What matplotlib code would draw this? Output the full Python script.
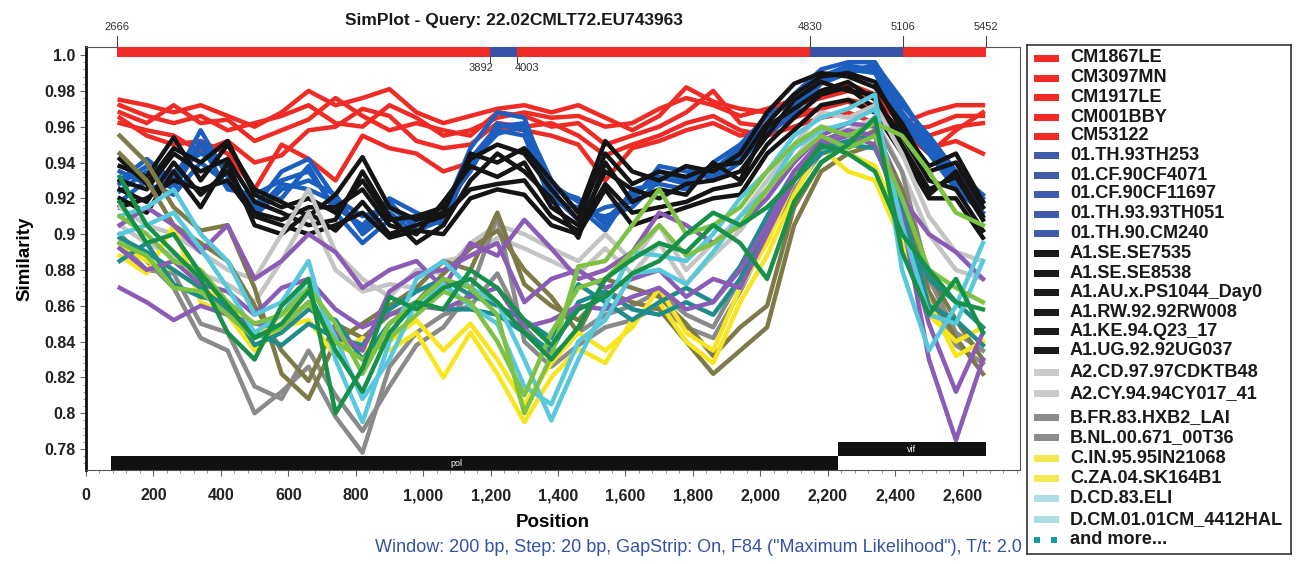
import numpy as np
import matplotlib
matplotlib.use('Agg')
import matplotlib.pyplot as plt
from matplotlib.patches import Rectangle

plt.rcParams['font.family'] = ['Liberation Sans', 'DejaVu Sans']

# window midpoints (bp) at which the similarity values were read
positions = np.arange(100, 2661, 80)

# CRF22 references (red)
cm1867le = [0.975,0.972,0.968,0.972,0.966,0.960,0.968,0.980,0.972,0.976,0.981,0.968,0.962,0.966,0.970,0.972,0.968,0.972,0.965,0.958,0.966,0.982,0.974,0.970,0.968,0.972,0.976,0.980,0.976,0.962,0.968,0.972,0.972]
cm3097mn = [0.968,0.962,0.972,0.962,0.964,0.952,0.958,0.964,0.976,0.966,0.958,0.962,0.958,0.955,0.968,0.966,0.960,0.962,0.950,0.955,0.960,0.968,0.980,0.962,0.960,0.968,0.970,0.974,0.968,0.958,0.960,0.966,0.966]
cm1917le = [0.962,0.958,0.955,0.946,0.952,0.940,0.944,0.958,0.960,0.970,0.966,0.952,0.948,0.950,0.962,0.960,0.962,0.955,0.944,0.950,0.955,0.962,0.966,0.958,0.955,0.960,0.965,0.968,0.962,0.955,0.948,0.952,0.945]
cm001bby = [0.972,0.966,0.962,0.966,0.958,0.962,0.966,0.972,0.962,0.960,0.972,0.965,0.955,0.958,0.965,0.968,0.965,0.966,0.960,0.962,0.970,0.976,0.972,0.966,0.970,0.975,0.980,0.984,0.978,0.965,0.955,0.960,0.962]
cm53122 = [0.965,0.955,0.950,0.952,0.945,0.925,0.950,0.942,0.930,0.955,0.948,0.945,0.935,0.940,0.960,0.958,0.955,0.950,0.930,0.948,0.952,0.958,0.962,0.955,0.958,0.965,0.970,0.975,0.972,0.958,0.945,0.958,0.968]

# CRF01_AE (blue)
th93th253 = [0.930,0.942,0.930,0.958,0.932,0.915,0.935,0.942,0.920,0.910,0.915,0.905,0.912,0.948,0.968,0.965,0.925,0.920,0.905,0.920,0.935,0.930,0.936,0.948,0.962,0.978,0.992,0.996,0.996,0.972,0.955,0.935,0.922]
cf90cf4071 = [0.924,0.935,0.925,0.950,0.925,0.922,0.930,0.935,0.915,0.905,0.920,0.912,0.905,0.942,0.960,0.962,0.930,0.912,0.910,0.915,0.930,0.938,0.930,0.940,0.958,0.972,0.988,0.994,0.992,0.965,0.948,0.928,0.915]
cf90cf11697 = [0.918,0.930,0.935,0.945,0.938,0.910,0.925,0.930,0.922,0.900,0.912,0.900,0.918,0.938,0.958,0.955,0.918,0.915,0.902,0.925,0.928,0.925,0.940,0.950,0.966,0.975,0.985,0.990,0.994,0.968,0.950,0.932,0.918]
th93th051 = [0.935,0.928,0.922,0.940,0.928,0.918,0.920,0.938,0.912,0.895,0.908,0.908,0.915,0.935,0.962,0.958,0.922,0.908,0.915,0.918,0.938,0.935,0.932,0.945,0.960,0.970,0.986,0.992,0.990,0.962,0.945,0.925,0.912]
th90cm240 = [0.928,0.938,0.928,0.952,0.935,0.912,0.928,0.925,0.918,0.902,0.918,0.902,0.908,0.940,0.956,0.960,0.928,0.918,0.908,0.922,0.932,0.928,0.935,0.942,0.955,0.968,0.984,0.990,0.995,0.975,0.952,0.930,0.920]

# A1 (black)
se7535 = [0.938,0.932,0.954,0.930,0.950,0.925,0.918,0.910,0.922,0.943,0.915,0.908,0.912,0.945,0.940,0.948,0.930,0.912,0.952,0.935,0.930,0.938,0.935,0.945,0.968,0.984,0.990,0.988,0.982,0.962,0.935,0.940,0.915]
se8538 = [0.925,0.918,0.940,0.922,0.935,0.912,0.908,0.915,0.915,0.925,0.905,0.900,0.918,0.938,0.932,0.940,0.915,0.905,0.935,0.925,0.920,0.928,0.930,0.935,0.955,0.975,0.985,0.980,0.978,0.950,0.925,0.932,0.908]
ps1044 = [0.930,0.925,0.945,0.935,0.942,0.918,0.912,0.905,0.908,0.935,0.910,0.895,0.905,0.930,0.945,0.935,0.920,0.898,0.940,0.918,0.925,0.922,0.940,0.930,0.960,0.970,0.980,0.985,0.975,0.955,0.930,0.925,0.902]
rw92rw008 = [0.920,0.912,0.935,0.915,0.940,0.905,0.900,0.912,0.902,0.918,0.900,0.905,0.910,0.925,0.928,0.930,0.910,0.902,0.928,0.912,0.915,0.918,0.925,0.928,0.950,0.965,0.978,0.982,0.970,0.948,0.922,0.935,0.910]
ke94q23 = [0.942,0.928,0.948,0.940,0.952,0.922,0.915,0.920,0.912,0.930,0.908,0.910,0.915,0.942,0.950,0.945,0.925,0.908,0.945,0.928,0.935,0.932,0.938,0.940,0.962,0.978,0.988,0.990,0.985,0.958,0.938,0.945,0.918]
ug92ug037 = [0.915,0.920,0.930,0.925,0.930,0.910,0.905,0.900,0.905,0.912,0.898,0.902,0.900,0.920,0.925,0.922,0.905,0.900,0.925,0.905,0.910,0.915,0.920,0.922,0.945,0.958,0.972,0.975,0.968,0.945,0.920,0.920,0.898]

# A2 (light gray), B (gray), C (yellow), D (light blue)
cd97cdktb48 = [0.915,0.905,0.900,0.890,0.880,0.875,0.900,0.925,0.890,0.875,0.865,0.880,0.878,0.895,0.905,0.900,0.892,0.885,0.900,0.885,0.905,0.880,0.895,0.910,0.930,0.950,0.968,0.965,0.972,0.945,0.910,0.890,0.885]
cy94cy017 = [0.905,0.895,0.888,0.878,0.872,0.862,0.885,0.912,0.880,0.868,0.872,0.870,0.885,0.888,0.898,0.892,0.885,0.878,0.892,0.878,0.895,0.872,0.888,0.902,0.922,0.942,0.960,0.958,0.965,0.935,0.900,0.880,0.875]
hxb2_lai = [0.900,0.885,0.870,0.842,0.835,0.800,0.812,0.826,0.798,0.778,0.826,0.845,0.855,0.860,0.878,0.848,0.832,0.845,0.855,0.860,0.868,0.855,0.848,0.875,0.905,0.930,0.950,0.955,0.962,0.935,0.875,0.845,0.835]
nl00t36 = [0.895,0.880,0.878,0.850,0.845,0.815,0.808,0.835,0.810,0.790,0.815,0.838,0.848,0.868,0.910,0.840,0.826,0.838,0.848,0.852,0.860,0.848,0.842,0.868,0.898,0.925,0.945,0.950,0.955,0.925,0.865,0.838,0.828]
in95in21068 = [0.888,0.878,0.905,0.862,0.855,0.835,0.848,0.852,0.832,0.842,0.835,0.845,0.820,0.845,0.822,0.795,0.820,0.836,0.828,0.852,0.862,0.840,0.828,0.862,0.888,0.922,0.948,0.935,0.930,0.895,0.855,0.840,0.848]
za04sk164b1 = [0.895,0.885,0.880,0.870,0.862,0.842,0.855,0.860,0.840,0.835,0.840,0.852,0.835,0.850,0.830,0.805,0.828,0.845,0.835,0.848,0.870,0.845,0.835,0.870,0.895,0.930,0.955,0.945,0.938,0.905,0.862,0.832,0.840]
cd83eli = [0.910,0.915,0.925,0.900,0.885,0.855,0.862,0.885,0.830,0.795,0.840,0.875,0.885,0.870,0.862,0.830,0.796,0.830,0.860,0.890,0.888,0.885,0.900,0.920,0.935,0.955,0.965,0.970,0.978,0.880,0.835,0.860,0.895]
cm4412hal = [0.900,0.905,0.912,0.892,0.870,0.845,0.855,0.875,0.842,0.808,0.830,0.862,0.872,0.860,0.850,0.815,0.805,0.840,0.852,0.878,0.880,0.872,0.890,0.910,0.925,0.948,0.958,0.962,0.970,0.905,0.855,0.850,0.885]

# the "and more..." references
olive_1 = [0.955,0.940,0.915,0.902,0.905,0.870,0.822,0.808,0.840,0.850,0.860,0.870,0.885,0.880,0.912,0.872,0.860,0.852,0.868,0.862,0.858,0.840,0.822,0.835,0.848,0.905,0.935,0.945,0.950,0.918,0.868,0.842,0.822]
olive_2 = [0.945,0.930,0.905,0.895,0.885,0.860,0.835,0.818,0.850,0.842,0.855,0.862,0.878,0.892,0.902,0.880,0.865,0.845,0.875,0.870,0.865,0.850,0.832,0.848,0.860,0.915,0.940,0.950,0.958,0.925,0.878,0.852,0.830]
purple_1 = [0.870,0.862,0.852,0.860,0.855,0.850,0.848,0.862,0.845,0.835,0.868,0.878,0.880,0.888,0.895,0.862,0.875,0.880,0.870,0.875,0.880,0.865,0.875,0.870,0.900,0.930,0.950,0.955,0.950,0.910,0.830,0.785,0.830]
purple_2 = [0.905,0.915,0.905,0.890,0.905,0.875,0.885,0.900,0.890,0.870,0.880,0.885,0.870,0.895,0.888,0.908,0.892,0.875,0.880,0.890,0.912,0.905,0.895,0.905,0.920,0.940,0.955,0.962,0.960,0.920,0.900,0.890,0.875]
purple_3 = [0.892,0.880,0.885,0.872,0.868,0.855,0.870,0.875,0.858,0.848,0.855,0.860,0.858,0.865,0.870,0.848,0.852,0.860,0.858,0.865,0.870,0.858,0.862,0.880,0.905,0.935,0.952,0.958,0.955,0.905,0.850,0.812,0.845]
teal_1 = [0.898,0.890,0.880,0.870,0.858,0.845,0.838,0.850,0.842,0.838,0.858,0.868,0.875,0.866,0.860,0.852,0.842,0.872,0.862,0.852,0.862,0.870,0.862,0.882,0.910,0.935,0.948,0.952,0.955,0.905,0.875,0.862,0.848]
teal_2 = [0.885,0.895,0.872,0.865,0.862,0.838,0.845,0.858,0.852,0.830,0.850,0.862,0.858,0.858,0.855,0.845,0.835,0.862,0.868,0.858,0.855,0.862,0.855,0.875,0.902,0.930,0.945,0.950,0.948,0.915,0.860,0.852,0.838]
lgreen_1 = [0.910,0.900,0.885,0.880,0.862,0.850,0.855,0.870,0.850,0.822,0.850,0.862,0.875,0.870,0.855,0.800,0.832,0.882,0.885,0.905,0.925,0.900,0.905,0.915,0.935,0.950,0.960,0.955,0.962,0.955,0.935,0.912,0.905]
lgreen_2 = [0.895,0.888,0.870,0.868,0.855,0.842,0.848,0.862,0.840,0.830,0.842,0.855,0.868,0.862,0.840,0.810,0.845,0.870,0.875,0.890,0.905,0.888,0.895,0.905,0.925,0.942,0.955,0.948,0.955,0.920,0.880,0.870,0.862]
green_1 = [0.932,0.905,0.890,0.875,0.845,0.830,0.860,0.875,0.800,0.825,0.865,0.858,0.870,0.875,0.862,0.845,0.830,0.848,0.875,0.886,0.895,0.890,0.905,0.895,0.875,0.918,0.940,0.950,0.965,0.890,0.855,0.875,0.845]
green_2 = [0.918,0.895,0.900,0.878,0.860,0.842,0.850,0.868,0.835,0.812,0.845,0.862,0.858,0.880,0.870,0.852,0.838,0.858,0.865,0.878,0.885,0.900,0.912,0.905,0.915,0.930,0.950,0.945,0.935,0.900,0.880,0.862,0.858]

legend_labels = ['CM1867LE', 'CM3097MN', 'CM1917LE', 'CM001BBY', 'CM53122',
                 '01.TH.93TH253', '01.CF.90CF4071', '01.CF.90CF11697', '01.TH.93.93TH051', '01.TH.90.CM240',
                 'A1.SE.SE7535', 'A1.SE.SE8538', 'A1.AU.x.PS1044_Day0', 'A1.RW.92.92RW008', 'A1.KE.94.Q23_17', 'A1.UG.92.92UG037',
                 'A2.CD.97.97CDKTB48', 'A2.CY.94.94CY017_41', 'B.FR.83.HXB2_LAI', 'B.NL.00.671_00T36',
                 'C.IN.95.95IN21068', 'C.ZA.04.SK164B1', 'D.CD.83.ELI', 'D.CM.01.01CM_4412HAL']
legend_groups = ['red'] * 5 + ['blue'] * 5 + ['black'] * 6 + ['lgray'] * 2 + ['gray'] * 2 + ['yellow'] * 2 + ['cyan'] * 2

# breakpoints on the top bar (HXB2 numbering) and where they fall in the alignment
bp_labels = ['2666', '3892', '4003', '4830', '5106', '5452']
bp_pos = [92, 1199, 1279, 2148, 2424, 2668]
genes = ['pol', 'vif']
gene_start = [74, 2231]
gene_end = [2231, 2668]

xtick_vals = list(range(0, 2601, 200))
xtick_labels = ['0', '200', '400', '600', '800', '1,000', '1,200', '1,400', '1,600', '1,800', '2,000', '2,200', '2,400', '2,600']
ytick_vals = [0.78, 0.80, 0.82, 0.84, 0.86, 0.88, 0.90, 0.92, 0.94, 0.96, 0.98, 1.0]
ytick_labels = ['0.78', '0.8', '0.82', '0.84', '0.86', '0.88', '0.9', '0.92', '0.94', '0.96', '0.98', '1.0']

line_col = {'red': '#ee2b24', 'blue': '#1d5fbf', 'black': '#141414', 'lgray': '#c4c4c4', 'gray': '#8a8a8a',
            'yellow': '#f7e51e', 'cyan': '#58c8dc', 'olive': '#7e7a48', 'purple': '#8a5cb5', 'teal': '#1e8c8c',
            'lgreen': '#7dc242', 'green': '#17914a'}
legend_col = {'red': '#ee2b24', 'blue': '#3f5ba9', 'black': '#1a1a1a', 'lgray': '#cbcbcb', 'gray': '#8c8c8c',
              'yellow': '#f2ea50', 'cyan': '#b0dde4'}

series = [(cm1867le, 'red'), (cm3097mn, 'red'), (cm1917le, 'red'), (cm001bby, 'red'), (cm53122, 'red'),
          (th93th253, 'blue'), (cf90cf4071, 'blue'), (cf90cf11697, 'blue'), (th93th051, 'blue'), (th90cm240, 'blue'),
          (se7535, 'black'), (se8538, 'black'), (ps1044, 'black'), (rw92rw008, 'black'), (ke94q23, 'black'), (ug92ug037, 'black'),
          (cd97cdktb48, 'lgray'), (cy94cy017, 'lgray'), (hxb2_lai, 'gray'), (nl00t36, 'gray'),
          (olive_1, 'olive'), (olive_2, 'olive'), (in95in21068, 'yellow'), (za04sk164b1, 'yellow'),
          (teal_1, 'teal'), (teal_2, 'teal'), (purple_1, 'purple'), (purple_2, 'purple'), (purple_3, 'purple'),
          (cd83eli, 'cyan'), (cm4412hal, 'cyan'), (lgreen_1, 'lgreen'), (lgreen_2, 'lgreen'),
          (green_2, 'green'), (green_1, 'green')]

W, H = 1296, 564
fig = plt.figure(figsize=(W / 100, H / 100), dpi=100)
ax = fig.add_axes([86 / W, 94 / H, 934 / W, 423 / H])

for vals, grp in series:
    ax.plot(positions, vals, color=line_col[grp], lw=3.2, solid_joinstyle='round')

ax.set_xlim(0, 2770)
ax.set_ylim(0.7683, 1.0045)

# top bar with breakpoints
bar_cols = ['#ee2b24', '#3a52a8', '#ee2b24', '#3a52a8', '#ee2b24']
for i in range(len(bp_pos) - 1):
    ax.add_patch(Rectangle((bp_pos[i], 0.9989), bp_pos[i + 1] - bp_pos[i], 0.0056,
                           color=bar_cols[i], lw=0, zorder=5))
for lab, p in zip(bp_labels, bp_pos):
    if lab in ('3892', '4003'):
        ax.plot([p, p], [0.9989, 0.9953], color='#444444', lw=0.8, clip_on=False, zorder=6)
        off = -28 if lab == '3892' else 28
        ax.text(p + off, 0.9930, lab, ha='center', va='center', fontsize=8, color='#333333')
    else:
        ax.plot([p, p], [1.0045, 1.0107], color='#444444', lw=0.8, clip_on=False, zorder=6)
        ax.text(p, 1.0155, lab, ha='center', va='center', fontsize=8, color='#333333', clip_on=False)

# gene map at the bottom
for g, s, e, k in zip(genes, gene_start, gene_end, range(2)):
    y0 = 0.7683 if k == 0 else 0.7761
    ax.add_patch(Rectangle((s, y0), e - s, 0.0078, color='#111111', lw=0, zorder=5))
    ax.text((s + e) / 2 if k else 1100, y0 + 0.0039, g, ha='center', va='center', fontsize=6.5, color='white', zorder=6)

ax.set_xticks(xtick_vals)
ax.set_xticklabels(xtick_labels)
ax.set_xticks(np.arange(0, 2770, 40), minor=True)
ax.set_yticks(ytick_vals)
ax.set_yticklabels(ytick_labels)
ax.set_yticks(np.arange(0.772, 1.004, 0.004), minor=True)
ax.tick_params(which='major', direction='out', length=4, width=0.8, color='#666666', labelsize=11.5)
ax.tick_params(which='minor', direction='out', length=2, width=0.6, color='#888888')
ax.tick_params(axis='x', which='major', pad=9)
for t in ax.get_xticklabels() + ax.get_yticklabels():
    t.set_fontweight('bold')
    t.set_color('#222222')
ax.spines['left'].set_linewidth(2)
ax.spines['left'].set_color('#111111')
for s in ['top', 'right', 'bottom']:
    ax.spines[s].set_linewidth(0.8)
    ax.spines[s].set_color('#555555')

ax.set_xlabel('Position', fontsize=13.5, fontweight='bold', labelpad=8)
ax.set_ylabel('Similarity', fontsize=13.5, fontweight='bold', labelpad=8)
fig.text(514 / W, 1 - 20 / H, 'SimPlot - Query: 22.02CMLT72.EU743963', ha='center', va='center',
         fontsize=12.5, fontweight='bold', color='#1a1a1a')
fig.text(1022 / W, 1 - 548 / H, 'Window: 200 bp, Step: 20 bp, GapStrip: On, F84 ("Maximum Likelihood"), T/t: 2.0',
         ha='right', va='center', fontsize=13, color='#3552a8')

# legend panel drawn by hand, in pixel units
lax = fig.add_axes([1027 / W, 1 - 554 / H, 264 / W, 509 / H])
lax.set_xlim(1027, 1291)
lax.set_ylim(554, 45)
lax.set_xticks([])
lax.set_yticks([])
for s in lax.spines.values():
    s.set_linewidth(1.2)
    s.set_color('#333333')
ys = [58, 78, 97, 117, 136, 155, 175, 194, 214, 233, 253, 274, 293, 313, 332, 351,
      373, 394, 418, 438, 459, 479, 499, 520]
for lab, grp, y in zip(legend_labels, legend_groups, ys):
    lax.add_patch(Rectangle((1034, y - 3.5), 25, 7, color=legend_col[grp], lw=0))
    lax.text(1070, y, lab, ha='left', va='center', fontsize=13.1, fontweight='bold', color='#1a1a1a')
lax.add_patch(Rectangle((1034, 537), 6, 6, color='#1a9a9a', lw=0))
lax.add_patch(Rectangle((1051, 537), 6, 6, color='#1a9a9a', lw=0))
lax.text(1070, 540, 'and more...', ha='left', va='center', fontsize=13.1, fontweight='bold', color='#1a1a1a')

fig.savefig('out.png', dpi=100)
